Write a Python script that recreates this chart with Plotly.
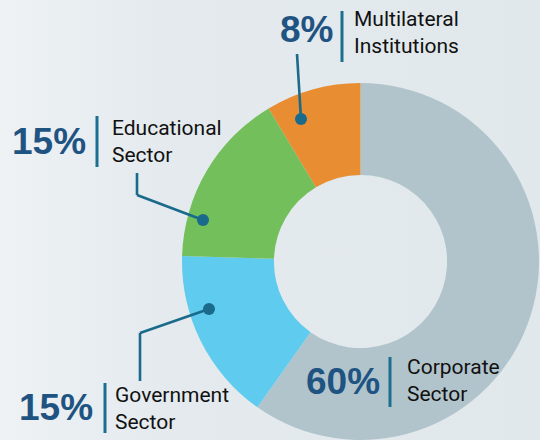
import plotly.graph_objects as go

# ---- data ----
categories = ["Corporate Sector", "Government Sector", "Educational Sector", "Multilateral Institutions"]
values = [59.8, 15.7, 15.9, 8.6]
pct_labels = ["60%", "15%", "15%", "8%"]
label_lines = [["Corporate", "Sector"], ["Government", "Sector"], ["Educational", "Sector"], ["Multilateral", "Institutions"]]
colors = ["#b1c4cc", "#5fcbee", "#72bf5b", "#e88d31"]

W, H = 540, 440
def px(x):
    return x / W
def py(y):
    return 1 - y / H

PCT_COLOR = "#1f5482"
BAR_COLOR = "#1c6f8f"
LEAD_COLOR = "#1a6a8b"
TEXT_FONT = "Roboto, Liberation Sans, sans-serif"

fig = go.Figure()

# background gradient
fig.add_trace(go.Scatter(
    x=[0, 1, 1, 0, 0], y=[0, 0, 1, 1, 0], mode="lines", fill="toself",
    line=dict(width=0), hoverinfo="skip", showlegend=False,
    fillgradient=dict(type="horizontal",
                      colorscale=[[0, "#eef2f5"], [0.3, "#e4eaee"], [1, "#e1e8ec"]]),
))

fig.add_trace(go.Pie(
    labels=categories, values=values, hole=0.485, sort=False,
    direction="clockwise", rotation=0,
    marker=dict(colors=colors, line=dict(width=0)),
    textinfo="none", hoverinfo="label+percent", showlegend=False,
    domain=dict(x=[0.3361, 0.9991], y=[0, 0.8114]),
))

# label layout: (pct right x, pct center y, bar x, bar y0, bar y1, text x, line1 y, line2 y)
layout_pos = [
    (382, 381, 390, 357, 407, 405, 368, 392),
    (95, 407, 105, 383, 433, 113, 396, 420),
    (88, 141, 97, 116, 167, 110, 129, 153),
    (335, 30, 342, 11, 62, 352, 21, 45),
]

annotations = []
shapes = []
for i, (prx, pcy, bx, by0, by1, tx, l1, l2) in enumerate(layout_pos):
    annotations.append(dict(
        x=px(prx), y=py(pcy), xref="paper", yref="paper", text=pct_labels[i],
        showarrow=False, xanchor="right", yanchor="middle",
        font=dict(family="Liberation Sans, Arial, sans-serif", size=37, color=PCT_COLOR, weight="bold"),
    ))
    annotations.append(dict(
        x=px(tx), y=py((l1 + l2) / 2), xref="paper", yref="paper",
        text="<br>".join(label_lines[i]), align="left",
        showarrow=False, xanchor="left", yanchor="middle",
        font=dict(family=TEXT_FONT, size=21, color="#111111"),
    ))
    shapes.append(dict(type="line", xref="paper", yref="paper",
                       x0=px(bx), x1=px(bx), y0=py(by0), y1=py(by1),
                       line=dict(color=BAR_COLOR, width=3), layer="above"))

# leader lines
leaders = [
    [(297, 54), (301, 119)],
    [(137, 173), (137, 195), (203, 220)],
    [(140, 381), (140, 333), (209, 309)],
]
for pts in leaders:
    for (x0, y0), (x1, y1) in zip(pts[:-1], pts[1:]):
        shapes.append(dict(type="line", xref="paper", yref="paper",
                           x0=px(x0), y0=py(y0), x1=px(x1), y1=py(y1),
                           line=dict(color=LEAD_COLOR, width=2.6), layer="above"))
    ex, ey = pts[-1]
    r = 6
    shapes.append(dict(type="circle", xref="paper", yref="paper",
                       x0=px(ex - r), x1=px(ex + r), y0=py(ey + r), y1=py(ey - r),
                       fillcolor=LEAD_COLOR, line=dict(width=0), layer="above"))

fig.update_layout(
    width=W, height=H, margin=dict(l=0, r=0, t=0, b=0),
    paper_bgcolor="#e3eaee", plot_bgcolor="rgba(0,0,0,0)",
    xaxis=dict(visible=False, range=[0, 1], domain=[0, 1], fixedrange=True),
    yaxis=dict(visible=False, range=[0, 1], domain=[0, 1], fixedrange=True),
    annotations=annotations, shapes=shapes, showlegend=False,
)

fig.write_html("out.html", config={"displayModeBar": False},
               post_script="document.body.style.margin='0';document.body.style.overflow='hidden';")
